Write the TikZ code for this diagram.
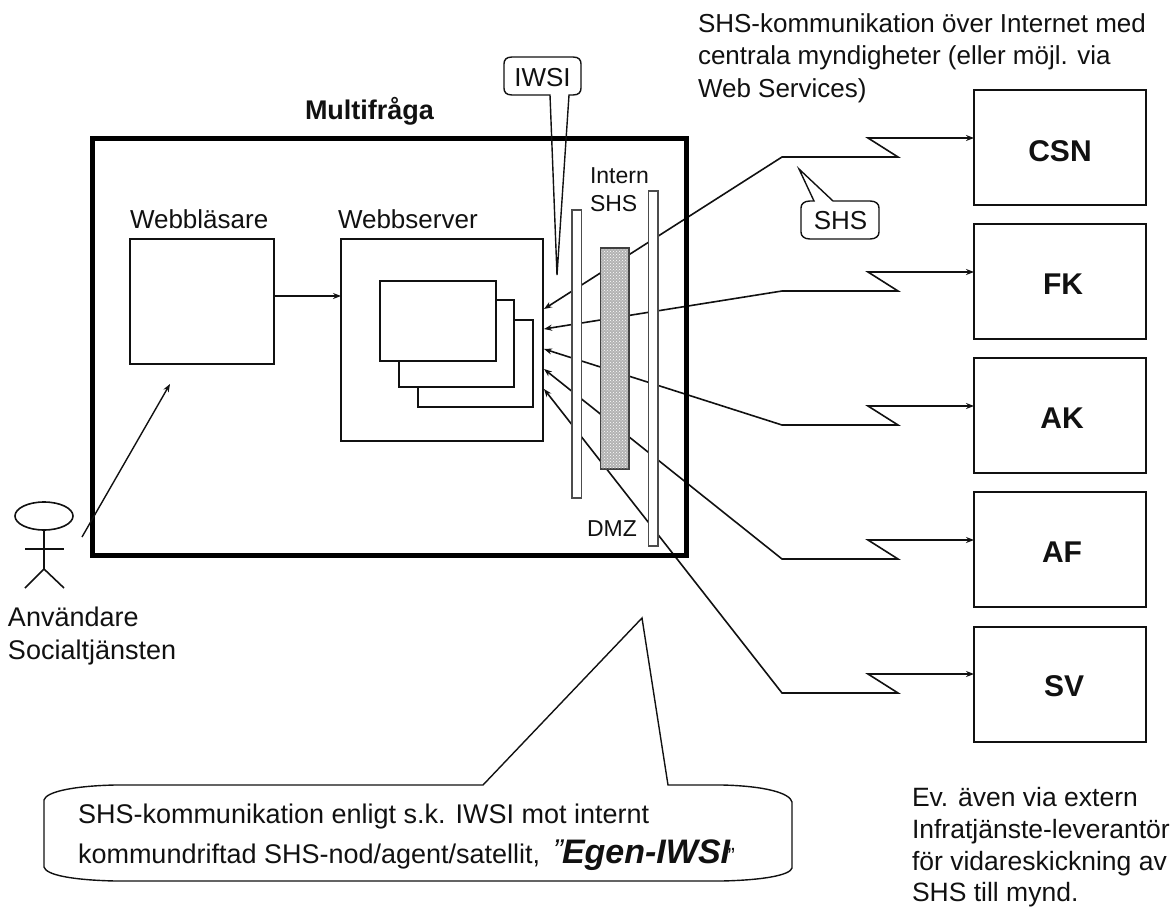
\documentclass[tikz,border=0pt]{standalone}
\usepackage{fontspec}
\setmainfont{Liberation Sans}
\usetikzlibrary{arrows.meta,patterns,shapes.geometric}
\definecolor{inkc}{HTML}{111111}
\newcommand{\fs}[1]{\fontsize{#1}{#1}\selectfont}
\tikzset{
  line/.style={draw=inkc,line width=1.6pt},
  conn/.style={line,line join=miter,-{Stealth[length=8pt,width=6pt]}},
  biconn/.style={line,line join=miter,{Stealth[length=8pt,width=6pt]}-{Stealth[length=8pt,width=6pt]}},
  boxb/.style={line,fill=white,inner sep=0pt,outer sep=0pt,anchor=north west},
  barb/.style={draw=black!70,line width=1.4pt,fill=white,inner sep=0pt,outer sep=0pt,anchor=north west},
  lbl/.style={inner sep=0pt,outer sep=0pt,anchor=base west,text=inkc,font=\fs{26}},
  small/.style={lbl,font=\fs{23}},
  myn/.style={inner sep=0pt,outer sep=0pt,anchor=base,text=inkc,font=\fs{30}\bfseries},
  call/.style={line,line width=1.4pt,line join=miter},
}
\begin{document}
\begin{tikzpicture}[x=1pt,y=-1pt]
\useasboundingbox (0,0) rectangle (1176,907);
% right-hand boxes
\node[boxb,minimum width=172pt,minimum height=115pt] (csn) at (974,90) {};
\node[boxb,minimum width=172pt,minimum height=115pt] (fk) at (974,224) {};
\node[boxb,minimum width=172pt,minimum height=115pt] (ak) at (974,358) {};
\node[boxb,minimum width=172pt,minimum height=115pt] (af) at (974,492) {};
\node[boxb,minimum width=172pt,minimum height=115pt] (sv) at (974,627) {};
\node[myn] (lcsn) at (1060,161) {CSN};
\node[myn] (lfk) at (1063,294) {FK};
\node[myn] (lak) at (1062,428) {AK};
\node[myn] (laf) at (1062,562) {AF};
\node[myn] (lsv) at (1064,696) {SV};
% inside frame
\node[boxb,minimum width=144pt,minimum height=125pt] (browser) at (130,239) {};
\node[boxb,minimum width=202pt,minimum height=202pt] (web) at (341,239) {};
\node[boxb,minimum width=115pt,minimum height=87pt] (p3) at (418,320) {};
\node[boxb,minimum width=115pt,minimum height=87pt] (p2) at (399,300) {};
\node[boxb,minimum width=116pt,minimum height=80pt] (p1) at (380,281) {};
\coordinate (e1) at (544,309);
\coordinate (e2) at (544,329);
\coordinate (e3) at (544,349);
\coordinate (e4) at (544,369);
\coordinate (e5) at (544,389);
% connectors
\draw[biconn] (e1) -- (782,157) -- (898,157) -- (868,138) -- (csn.west |- 0,138);
\draw[biconn] (e2) -- (782,291) -- (898,291) -- (868,272) -- (fk.west |- 0,272);
\draw[biconn] (e3) -- (782,425) -- (898,425) -- (868,406) -- (ak.west |- 0,406);
\draw[biconn] (e4) -- (782,559) -- (898,559) -- (868,540) -- (af.west |- 0,540);
\draw[biconn] (e5) -- (782,693) -- (898,693) -- (868,674) -- (sv.west |- 0,674);
\draw[conn] (browser.east |- 0,296) -- (web.west |- 0,296);
% bars
\node[barb,minimum width=9.5pt,minimum height=288pt] (bar1) at (572,210) {};
\node[barb,minimum width=9.5pt,minimum height=355pt] (bar2) at (648.5,191) {};
\node[barb,draw=black!75,minimum width=28.5pt,minimum height=221pt,fill=black!30] (fw) at (600.5,248) {};
\fill[pattern=crosshatch dots,pattern color=white] (601.5,249) rectangle (628,468);
% frame
\node[draw=black,line width=5pt,inner sep=0pt,outer sep=0pt,anchor=north west,minimum width=594pt,minimum height=417pt] (frame) at (92.5,138.5) {};
% labels
\node[lbl,font=\fs{27}\bfseries] (title) at (305,120) {Multifråga};
\node[lbl] (tb) at (130,228) {Webbläsare};
\node[lbl] (tw) at (338,228) {Webbserver};
\node[small] (t1) at (590,183) {Intern};
\node[small] (t2) at (590,211) {SHS};
\node[small] (t3) at (587,536) {DMZ};
\node[lbl] (a1) at (698,33) {SHS-kommunikation över Internet med};
\node[lbl] (a2) at (698,65) {centrala myndigheter (eller möjl. via};
\node[lbl] (a3) at (698,97) {Web Services)};
\node[lbl,font=\fs{26.5}] (b1) at (912,806) {Ev. även via extern};
\node[lbl,font=\fs{26.5}] (b2) at (912,838) {Infratjänste-leverantör};
\node[lbl,font=\fs{26.5}] (b3) at (912,870) {för vidareskickning av};
\node[lbl,font=\fs{26.5}] (b4) at (912,901) {SHS till mynd.};
\node[lbl,font=\fs{27}] (u1) at (8,626) {Användare};
\node[lbl,font=\fs{27}] (u2) at (8,659) {Socialtjänsten};
% stick figure
\node[draw=inkc,line width=1.6pt,ellipse,minimum width=58pt,minimum height=28pt,inner sep=0pt] (head) at (44,516) {};
\coordinate (hip) at (44,569);
\coordinate (useR) at (82,537);
\draw[line] (head.south) -- (hip) -- (25,588);
\draw[line] (hip) -- (64,588);
\draw[line] (25,549) -- (64,549);
\coordinate (useT) at (170,384);
\draw[conn,line width=1.4pt] (useR) -- (useT);
% callouts
\node[lbl,anchor=base] (ciwsi) at (542.5,87) {IWSI};
\draw[call] (550,95) -- (512,95) .. controls (506,95) and (504,92) .. (504,88) -- (504,64) .. controls (504,60) and (506,57) .. (512,57) -- (573,57) .. controls (579,57) and (581,60) .. (581,64) -- (581,88) .. controls (581,92) and (579,95) .. (573,95) -- (569,95) -- (557,275) -- cycle;
\node[lbl,anchor=base] (cshs) at (840.5,229) {SHS};
\draw[call] (814,201) -- (810,201) .. controls (804,201) and (801,204) .. (801,208) -- (801,232) .. controls (801,236) and (804,239) .. (810,239) -- (870,239) .. controls (876,239) and (879,236) .. (879,232) -- (879,208) .. controls (879,204) and (876,201) .. (870,201) -- (833,201) -- (799,169) -- cycle;
\draw[call] (483,785) -- (115,785) .. controls (72,786) and (46,792) .. (44,800) -- (44,867) .. controls (46,875) and (72,880) .. (115,881) -- (722,881) .. controls (765,880) and (790,875) .. (792,868) -- (792,802) .. controls (790,793) and (765,786) .. (722,785) -- (668,785) -- (642,618) -- cycle;
\node[lbl,font=\fs{27}] (n1) at (78,823) {SHS-kommunikation enligt s.k. IWSI mot internt};
\node[lbl,font=\fs{27}] (n2) at (78,863) {kommundriftad SHS-nod/agent/satellit,};
\node[lbl,font=\fs{34}\bfseries\itshape] (n3) at (562,863) {Egen-IWSI};
\node[lbl,font=\fs{30}\itshape,anchor=base east,xshift=1pt,yshift=3pt] (q1) at (n3.base west) {”};
\node[lbl,font=\fs{22},xshift=-2.5pt] (q2) at (n3.base east) {”};
\end{tikzpicture}
\end{document}
